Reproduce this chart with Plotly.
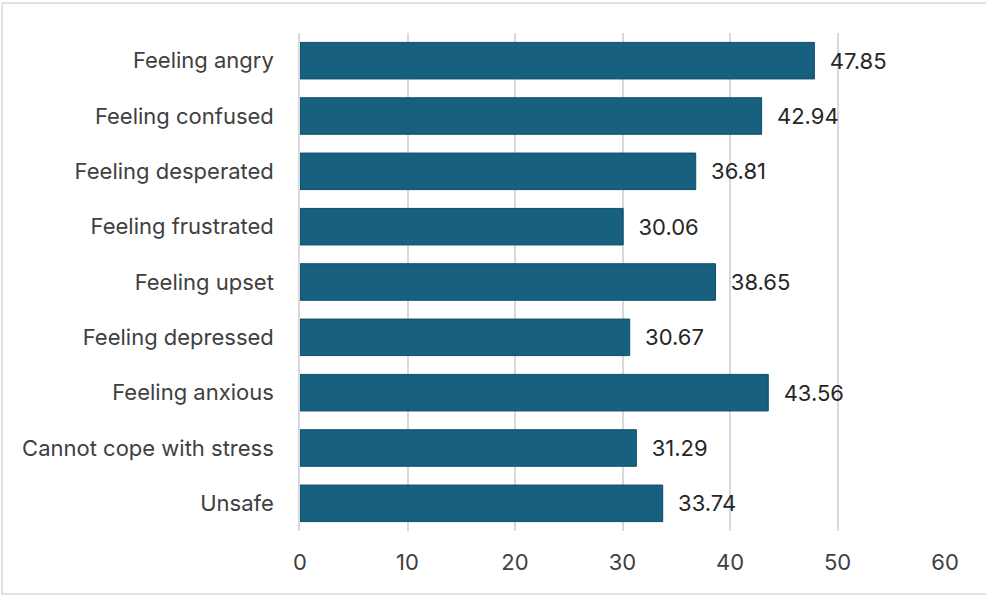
import plotly.graph_objects as go

categories = [
    "Feeling angry",
    "Feeling confused",
    "Feeling desperated",
    "Feeling frustrated",
    "Feeling upset",
    "Feeling depressed",
    "Feeling anxious",
    "Cannot cope with stress",
    "Unsafe",
]
values = [47.85, 42.94, 36.81, 30.06, 38.65, 30.67, 43.56, 31.29, 33.74]
x_ticks = [0, 10, 20, 30, 40, 50, 60]

font_family = "Inter, Open Sans, sans-serif"

fig = go.Figure()
fig.add_trace(go.Bar(
    x=values,
    y=categories,
    orientation="h",
    marker=dict(color="#17607f", line=dict(color="#0e4d6b", width=1)),
    width=0.66,
    text=values,
    texttemplate="\u00a0\u00a0%{x:.2f}",
    textposition="outside",
    textfont=dict(size=22, color="#262626", family=font_family),
    cliponaxis=False,
))

fig.update_layout(
    width=986,
    height=599,
    margin=dict(l=300, r=41, t=33, b=68),
    paper_bgcolor="white",
    plot_bgcolor="white",
    showlegend=False,
    font=dict(family=font_family, size=22, color="#404040"),
    xaxis=dict(
        range=[0, 60],
        tickvals=x_ticks,
        showgrid=True,
        gridcolor="#d9d9d9",
        gridwidth=1.5,
        zeroline=False,
        showline=False,
        ticks="outside",
        ticklen=12,
        tickcolor="rgba(0,0,0,0)",
        tickfont=dict(size=22, color="#404040"),
    ),
    yaxis=dict(
        autorange="reversed",
        showline=True,
        linecolor="#d9d9d9",
        linewidth=1.5,
        showgrid=False,
        ticks="outside",
        ticklen=20,
        tickcolor="rgba(0,0,0,0)",
        tickfont=dict(size=22, color="#404040"),
    ),
    shapes=[
        # light frame around the whole chart
        dict(type="rect", xref="paper", yref="paper",
             x0=-0.462, x1=1.065, y0=-0.1265, y1=1.0602,
             line=dict(color="#d9d9d9", width=1.5), layer="below"),
    ],
)

fig.write_html(
    "out.html",
    config={"displayModeBar": False},
    post_script="document.body.style.margin='0px';",
)
